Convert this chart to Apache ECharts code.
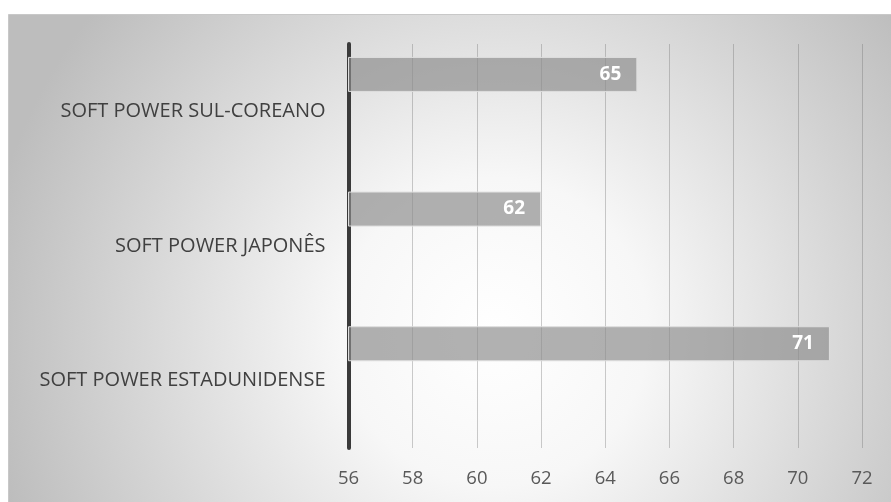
<!DOCTYPE html>
<html>
<head>
<meta charset="utf-8">
<script src="https://cdn.jsdelivr.net/npm/echarts@6/dist/echarts.min.js"></script>
<style>
  html, body { margin: 0; padding: 0; background: #fff; }
  #chart { width: 891px; height: 502px; }
</style>
</head>
<body>
<div id="chart"></div>
<script>
// categories bottom -> top (category axis runs upward)
const categories = ['SOFT POWER ESTADUNIDENSE', 'SOFT POWER JAPONÊS', 'SOFT POWER SUL-COREANO'];
const values = [71, 62, 65];
const emptyValues = [null, null, null]; // placeholder second series (keeps bars in upper half of band)

const chart = echarts.init(document.getElementById('chart'));

chart.setOption({
  animation: false,
  textStyle: { fontFamily: 'Open Sans' },
  graphic: [{
    type: 'rect',
    left: 8, top: 14,
    shape: { width: 883, height: 488 },
    style: {
      fill: new echarts.graphic.RadialGradient(0.55, 0.65, 1.05, [
        { offset: 0, color: '#ffffff' },
        { offset: 0.3, color: '#f7f7f7' },
        { offset: 1, color: '#bdbdbd' }
      ]),
      stroke: '#c8c8c8', lineWidth: 1
    },
    z: -10
  }],
  grid: { left: 348.5, right: 29, top: 44, bottom: 54 },
  xAxis: {
    type: 'value',
    min: 56, max: 72, interval: 2,
    axisLine: { show: false },
    axisTick: { show: false },
    axisLabel: { color: '#595959', fontSize: 18.5, margin: 21 },
    splitLine: { show: true, lineStyle: { color: 'rgba(110,110,110,0.35)', width: 1 } }
  },
  yAxis: {
    type: 'category',
    data: categories,
    axisLine: { show: true, lineStyle: { color: '#3a3a3a', width: 4 } },
    axisTick: { show: false },
    axisLabel: { color: '#404040', fontSize: 20, margin: 23 }
  },
  series: [
    {
      type: 'bar',
      data: values,
      barWidth: 35,
      barGap: '111%',
      itemStyle: { color: 'rgba(140,140,140,0.68)', borderColor: '#dedede', borderWidth: 1 },
      label: {
        show: true, position: 'insideRight', distance: 16,
        color: '#ffffff', fontWeight: 'bold', fontSize: 19
      },
      z: 3
    },
    {
      type: 'bar',
      data: emptyValues,
      barWidth: 35
    }
  ]
});
</script>
</body>
</html>
